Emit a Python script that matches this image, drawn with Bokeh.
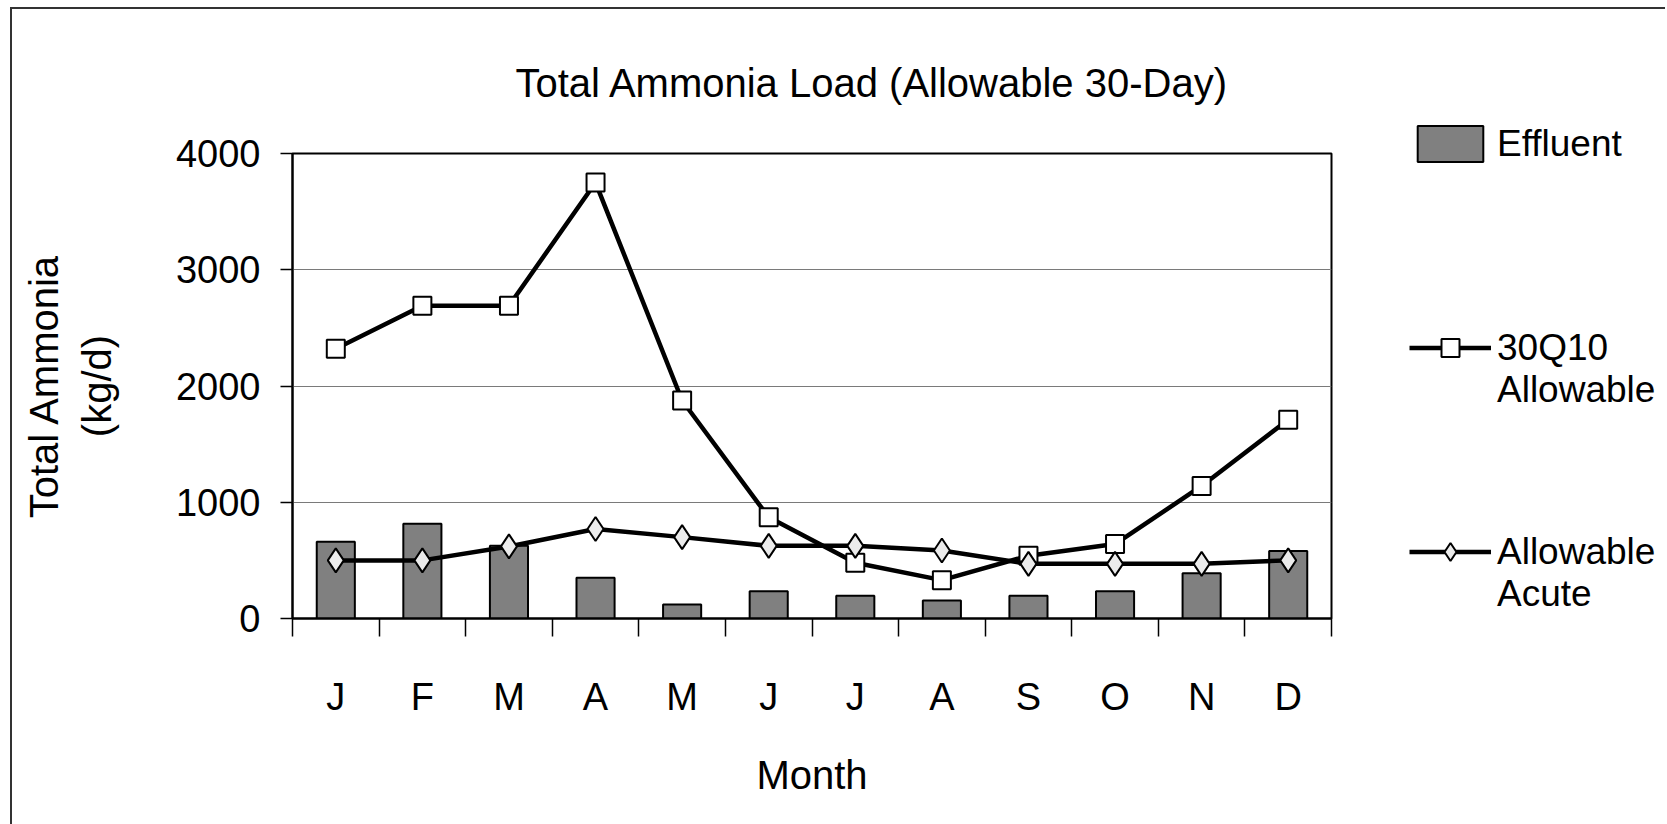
from bokeh.plotting import figure
from bokeh.models import (Range1d, FixedTicker, Legend, LegendItem, ColumnDataSource)
from bokeh.embed import file_html
from bokeh.resources import INLINE

# ---- data ----
months = ["J", "F", "M", "A", "M", "J", "J", "A", "S", "O", "N", "D"]
effluent = [660, 815, 625, 350, 120, 235, 195, 155, 195, 235, 390, 580]
q10_allowable = [2320, 2690, 2690, 3750, 1875, 870, 480, 330, 540, 640, 1140, 1710]
acute_allowable = [500, 500, 620, 770, 700, 625, 625, 585, 470, 470, 470, 500]
y_ticks = [0, 1000, 2000, 3000, 4000]
# blank lines keep each legend glyph level with the first text line
series_labels = [" \nEffluent\n ", " \n30Q10\nAllowable", " \nAllowable\nAcute"]

x = list(range(1, len(months) + 1))
src = ColumnDataSource(dict(x=x, eff=effluent, q10=q10_allowable, acute=acute_allowable))

FONT = "Liberation Sans"

p = figure(frame_width=1039, frame_height=465, output_backend="svg", toolbar_location=None,
           x_range=Range1d(0.5, len(months) + 0.5), y_range=Range1d(0, 4000),
           min_border_left=280, min_border_right=0, min_border_top=143,
           min_border_bottom=207)
# outer chart border; the chart is cut at the right edge of the window as in the reference
p.styles = {"border-top": "2px solid #333333", "border-left": "2px solid #333333",
            "margin-left": "10px", "margin-top": "7px",
            "max-width": "1655px", "overflow": "hidden"}
p.background_fill_color = "white"
p.border_fill_color = "white"
p.outline_line_color = "black"
p.outline_line_width = 2
p.outline_line_alpha = 1

# title
p.title.text = "Total Ammonia Load (Allowable 30-Day)"
p.title.text_font = FONT
p.title.text_font_size = "40px"
p.title.text_font_style = "normal"
p.title.text_color = "black"
p.title.align = "left"
p.title.offset = 223
p.title.standoff = 98

# x axis
xa = p.xaxis[0]
xa.ticker = FixedTicker(ticks=x, minor_ticks=[v - 0.5 for v in x] + [x[-1] + 0.5])
xa.major_label_overrides = {v: m for v, m in zip(x, months)}
xa.major_tick_in = 0
xa.major_tick_out = 0
xa.minor_tick_in = 0
xa.minor_tick_out = 18
xa.minor_tick_line_color = "black"
xa.minor_tick_line_width = 1.5
xa.axis_line_color = "black"
xa.axis_line_width = 2
xa.major_label_text_font = FONT
xa.major_label_text_font_size = "38px"
xa.major_label_text_color = "black"
xa.major_label_standoff = 39
xa.axis_label = "Month"
xa.axis_label_text_font = FONT
xa.axis_label_text_font_size = "40px"
xa.axis_label_text_font_style = "normal"
xa.axis_label_text_color = "black"
xa.axis_label_standoff = 32

# y axis
ya = p.yaxis[0]
ya.ticker = FixedTicker(ticks=y_ticks)
ya.major_tick_in = 0
ya.major_tick_out = 12
ya.major_tick_line_color = "black"
ya.major_tick_line_width = 1.5
ya.minor_tick_line_color = None
ya.axis_line_color = "black"
ya.axis_line_width = 2
ya.major_label_text_font = FONT
ya.major_label_text_font_size = "38px"
ya.major_label_text_color = "black"
ya.major_label_standoff = 20
ya.axis_label = "Total Ammonia\n(kg/d)"
ya.axis_label_text_font = FONT
ya.axis_label_text_font_size = "40px"
ya.axis_label_text_font_style = "normal"
ya.axis_label_text_color = "black"
ya.axis_label_text_line_height = 1.2
ya.axis_label_standoff = 54

# grid
p.xgrid.visible = False
p.ygrid.ticker = FixedTicker(ticks=y_ticks)
p.ygrid.grid_line_color = "#7a7a7a"
p.ygrid.grid_line_width = 1

# glyphs
bars = p.vbar(x="x", top="eff", bottom=0, width=0.44, source=src,
              fill_color="#808080", line_color="black", line_width=2)
q10_line = p.line("x", "q10", source=src, line_color="black", line_width=4.5)
q10_pts = p.scatter("x", "q10", source=src, marker="square", size=18,
                    fill_color="white", line_color="black", line_width=2)
acute_line = p.line("x", "acute", source=src, line_color="black", line_width=4.5)
acute_pts = p.scatter("x", "acute", source=src, marker="diamond", size=24,
                      fill_color="#ebebeb", line_color="black", line_width=2)

legend = Legend(items=[LegendItem(label=series_labels[0], renderers=[bars]),
                       LegendItem(label=series_labels[1], renderers=[q10_line, q10_pts]),
                       LegendItem(label=series_labels[2], renderers=[acute_line, acute_pts])],
                location=(78, 3.5), glyph_width=82, glyph_height=45, label_standoff=6,
                padding=0, margin=0, spacing=78, border_line_alpha=0,
                background_fill_alpha=0, label_text_font=FONT,
                label_text_font_size="37px", label_text_color="black",
                label_height=10)
p.add_layout(legend, "right")

open("out.html", "w").write(file_html(p, INLINE))
